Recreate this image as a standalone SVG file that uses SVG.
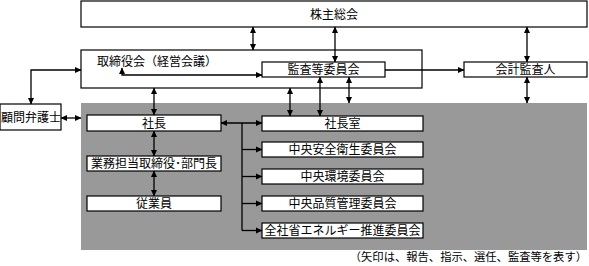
<svg xmlns="http://www.w3.org/2000/svg" width="589" height="266" viewBox="0 0 589 266">
<style>
.box{fill:#fff;stroke:#000;stroke-width:1.2}
.t{font-family:"Noto Sans CJK JP","Noto Sans",sans-serif;font-size:12px;fill:#000;text-anchor:middle}
.c{fill:none;stroke:#000;stroke-width:1.3}
.a2{marker-start:url(#ah);marker-end:url(#ah)}
.a1{marker-end:url(#ah)}
</style>
<defs>
<marker id="ah" markerUnits="userSpaceOnUse" markerWidth="7" markerHeight="7" refX="6" refY="3.5" orient="auto-start-reverse" viewBox="0 0 7 7">
<path d="M0,0.5 L6.5,3.5 L0,6.5 z" fill="#000"/>
</marker>
</defs>
<rect x="81" y="103" width="506" height="147" fill="#999"/>
<g id="kabunushi"><rect class="box" x="81" y="1" width="506" height="26"/><text class="t" x="334" y="18.5">株主総会</text></g>
<g id="torishimari"><rect class="box" x="81" y="50" width="341" height="38"/><text class="t" x="97" y="66" style="text-anchor:start">取締役会（経営会議）</text></g>
<g id="kansa"><rect class="box" x="262" y="62" width="123" height="15"/><text class="t" x="323.5" y="74">監査等委員会</text></g>
<g id="kaikei"><rect class="box" x="464" y="62" width="123" height="15"/><text class="t" x="525.5" y="74">会計監査人</text></g>
<g id="komon"><rect class="box" x="0" y="104" width="61" height="26"/><text class="t" x="31" y="121.5">顧問弁護士</text></g>
<g id="shacho"><rect class="box" x="87" y="115" width="134" height="16"/><text class="t" x="154" y="127.5">社長</text></g>
<g id="gyomu"><rect class="box" x="87" y="156" width="134" height="15"/><text class="t" x="154" y="168">業務担当取締役･部門長</text></g>
<g id="jugyoin"><rect class="box" x="87" y="196" width="134" height="15"/><text class="t" x="154" y="208">従業員</text></g>
<g id="shachoshitsu"><rect class="box" x="262" y="116" width="161" height="15"/><text class="t" x="342.5" y="128">社長室</text></g>
<g id="anzen"><rect class="box" x="262" y="142" width="161" height="15"/><text class="t" x="342.5" y="154">中央安全衛生委員会</text></g>
<g id="kankyo"><rect class="box" x="262" y="169" width="161" height="15"/><text class="t" x="342.5" y="181">中央環境委員会</text></g>
<g id="hinshitsu"><rect class="box" x="262" y="196" width="161" height="15"/><text class="t" x="342.5" y="208">中央品質管理委員会</text></g>
<g id="shoene"><rect class="box" x="262" y="223" width="161" height="15"/><text class="t" x="342.5" y="235">全社省エネルギー推進委員会</text></g>
<g id="connectors">
<path class="c a2" d="M253,27 V50"/>
<path class="c a2" d="M335,27 V62"/>
<path class="c a2" d="M527,27 V62"/>
<path class="c a2" d="M122,68 V75 H262"/>
<path class="c a1" d="M385,70 H464"/>
<path class="c a2" d="M527,77 V103"/>
<path class="c a2" d="M349,77 V103"/>
<path class="c a2" d="M320,77 V116"/>
<path class="c a2" d="M290,88 V116"/>
<path class="c a2" d="M154,88 V115"/>
<path class="c a2" d="M31,104 V70 H81"/>
<path class="c a2" d="M61,118 H81"/>
<path class="c a2" d="M221,123 H262"/>
<path class="c" d="M242,123 V230.5"/>
<path class="c a1" d="M242,149.5 H262"/>
<path class="c a1" d="M242,176.5 H262"/>
<path class="c a1" d="M242,203.5 H262"/>
<path class="c a1" d="M242,230.5 H262"/>
<path class="c a2" d="M154,131 V156"/>
<path class="c a2" d="M154,171 V196"/>
</g>
<text class="t" x="587" y="261" style="text-anchor:end;font-size:11.3px">（矢印は、報告、指示、選任、監査等を表す）</text>
</svg>
